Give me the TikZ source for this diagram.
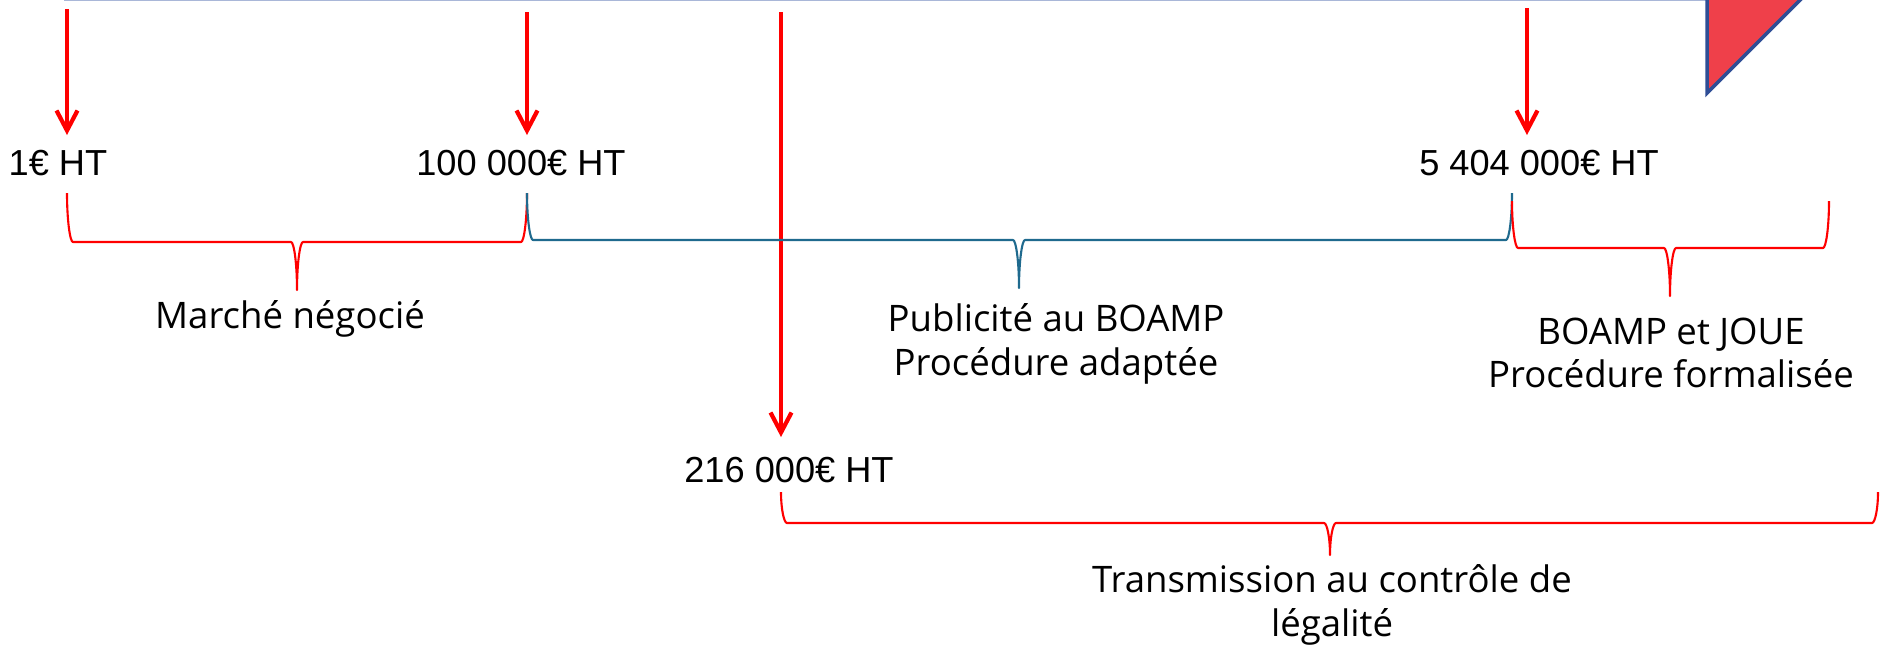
\documentclass[tikz,border=0pt]{standalone}
\usepackage{fontspec}
\setmainfont{Open Sans}
\newfontfamily\montant{Liberation Sans}
\usepackage{tikz}
\usetikzlibrary{arrows.meta}

\definecolor{rouge}{HTML}{FF0000}
\definecolor{bleuacc}{HTML}{1F6A8E}
\definecolor{bleuligne}{HTML}{A9B7D8}
\definecolor{rougetri}{HTML}{EF404A}
\definecolor{bordtri}{HTML}{2F4E96}

\tikzset{
    fleche/.style={draw=rouge, line width=1.2pt, -{Straight Barb[length=2mm,width=2.1mm]}, shorten >=1.4mm},
    seuil/.style={font=\montant\fontsize{10.3}{12}\selectfont, inner sep=0pt, anchor=base},
    legende/.style={font=\fontsize{10.4}{12.4}\selectfont, align=center, inner sep=0pt},
    accol/.style={line width=0.6pt, line join=round}
}

% colour, left x, middle x, right x, top y, flat y, tip y
\newcommand{\accolade}[7]{%
    \draw[accol, #1] (#2,#5) .. controls (#2,{#5+0.55*(#6-#5)}) and ({#2+3},#6) .. ({#2+6},#6)
        -- ({#3-6},#6) .. controls ({#3-3},#6) and (#3,{#6+0.45*(#7-#6)}) .. (#3,#7)
        .. controls (#3,{#6+0.45*(#7-#6)}) and ({#3+3},#6) .. ({#3+6},#6)
        -- ({#4-6},#6) .. controls ({#4-3},#6) and (#4,{#5+0.55*(#6-#5)}) .. (#4,#5);
}

\begin{document}
\begin{tikzpicture}[x=0.1mm, y=-0.1mm]
        \useasboundingbox (0,0) rectangle (1880,648);
        % Top line and corner triangle
        \draw[bleuligne, line width=0.5pt] (64,0.5) -- (1707,0.5);
        \draw[fill=rougetri, draw=bordtri, line width=1pt, line join=miter] (1707,-5) -- (1707,93) -- (1805,-5) -- cycle;
        % Arrow heads start under the line
        \coordinate (h1) at (67,9);
        \coordinate (h2) at (527,12);
        \coordinate (h3) at (781,12);
        \coordinate (h4) at (1527,8);
        % Amounts
        \node[seuil] (l1) at (58,175) {1€ HT};
        \node[seuil] (l2) at (521,175) {100 000€ HT};
        \node[seuil] (l3) at (789,482) {216 000€ HT};
        \node[seuil] (l4) at (1539,175) {5 404 000€ HT};
        \draw[fleche] (h1) -- (h1 |- l1.north);
        \draw[fleche] (h2) -- (h2 |- l2.north);
        \draw[fleche, shorten >=1.9mm] (h3) -- (h3 |- l3.north);
        \draw[fleche] (h4) -- (h4 |- l4.north);
        % Braces
        \accolade{rouge}{67}{297}{527}{193}{242}{290}
        \accolade{bleuacc}{527}{1019}{1512}{193}{240}{288}
        \accolade{rouge}{1512}{1670}{1829}{201}{248}{296}
        \accolade{rouge}{781}{1330}{1878}{492}{523}{555}
        % Labels under the braces
        \node[legende, anchor=base] (m1) at (290,328) {Marché négocié};
        \node[legende, anchor=north] (m2) at (1056,303) {Publicité au BOAMP\\Procédure adaptée};
        \node[legende, anchor=north] (m3) at (1671,317) {BOAMP et JOUE\\Procédure formalisée};
        \node[legende, anchor=north] (m4) at (1332,564) {Transmission au contrôle de\\légalité};
    \end{tikzpicture}
\end{document}
